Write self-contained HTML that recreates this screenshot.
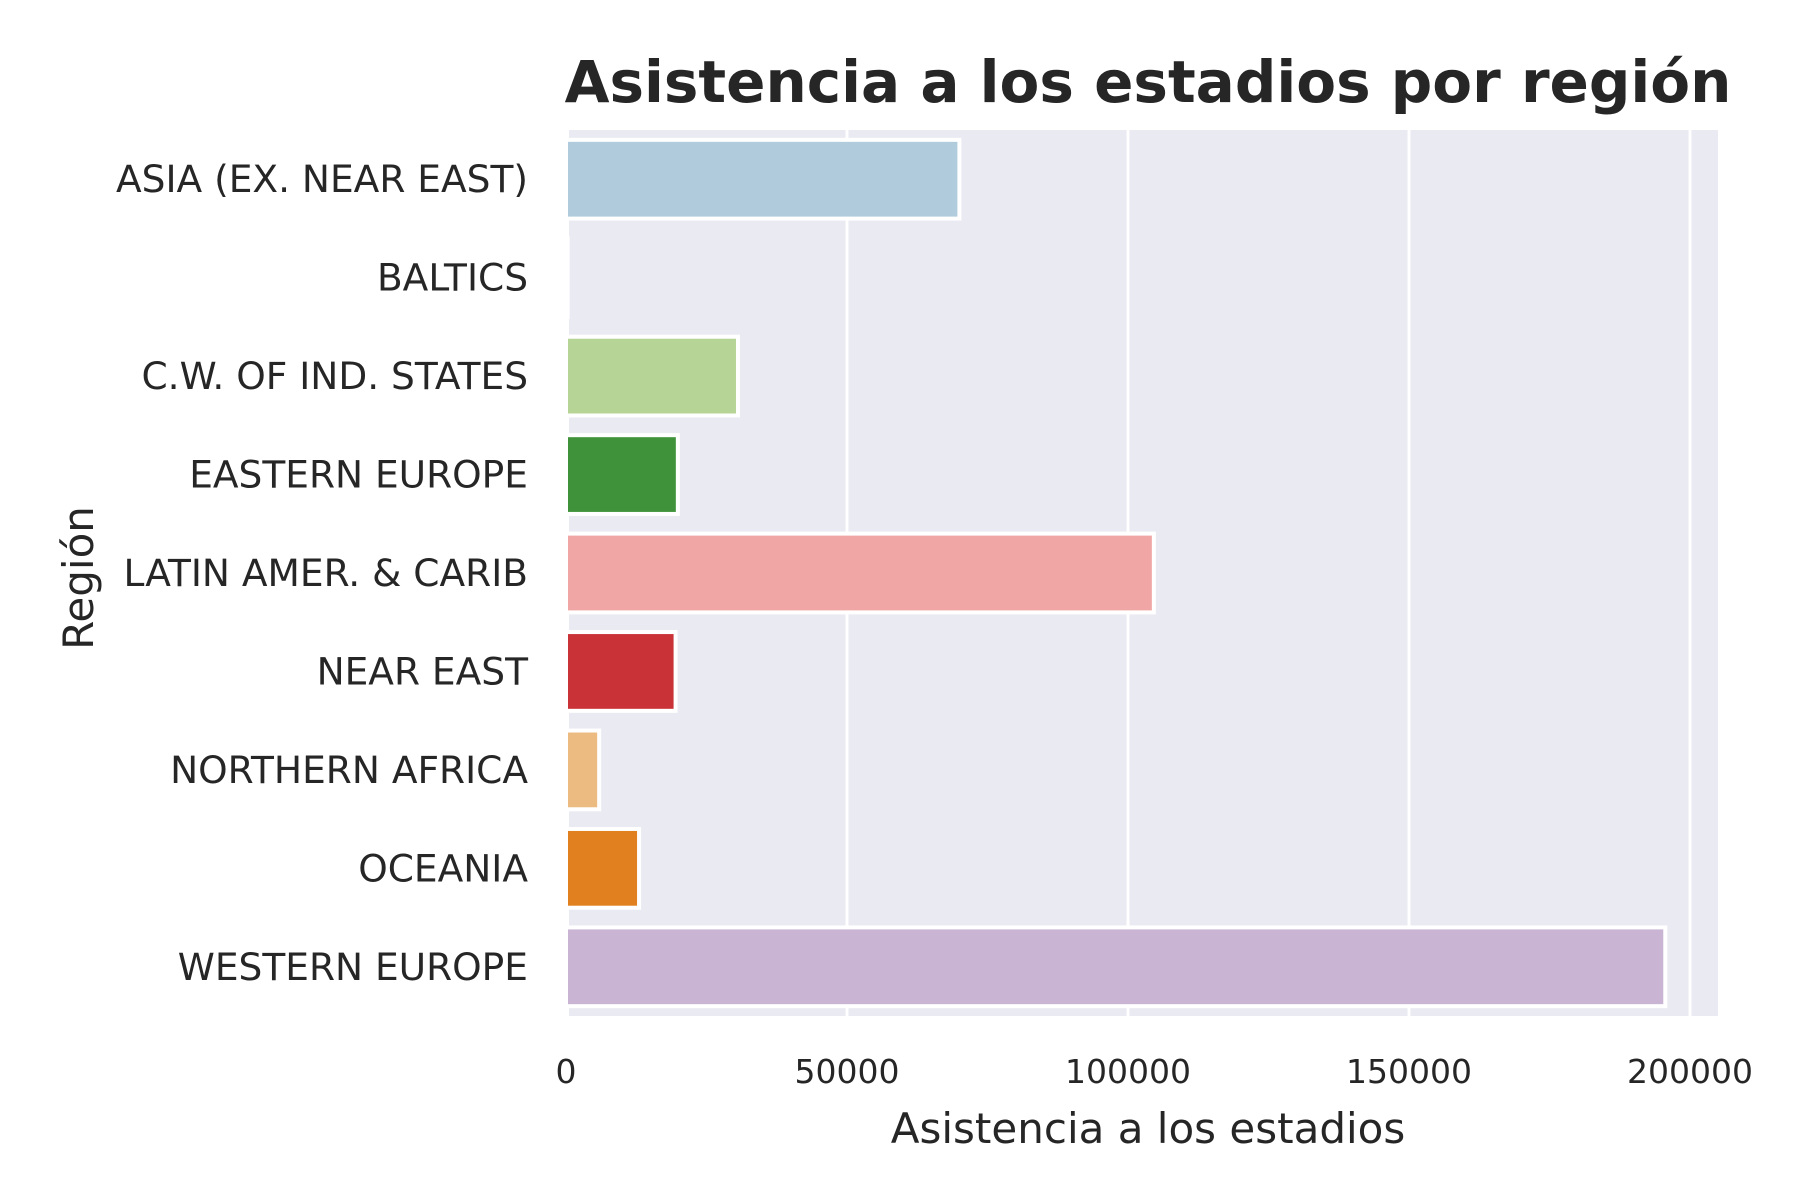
<!DOCTYPE html>
<html><head><meta charset="utf-8"><style>
html,body{margin:0;padding:0;background:#fff;}
svg{display:block;font-family:"DejaVu Sans","Liberation Sans",sans-serif;}
</style></head><body>
<svg id="chart" width="1800" height="1200" viewBox="0 0 1800 1200" xmlns="http://www.w3.org/2000/svg">
<rect x="0" y="0" width="1800" height="1200" fill="#ffffff"/>
<text x="1148" y="102" text-anchor="middle" font-size="58" font-weight="bold" fill="#262626">Asistencia a los estadios por región</text>
<rect x="569" y="130" width="1149" height="886" fill="#eaeaf2"/>
<g id="grid"></g>
<g id="bars"></g>
<g id="ylabels"></g>
<g id="xlabels"></g>
<text x="1148" y="1143" text-anchor="middle" font-size="42" fill="#262626">Asistencia a los estadios</text>
<text transform="translate(93,578) rotate(-90)" text-anchor="middle" font-size="42" fill="#262626">Región</text>
</svg>
<script>
const categories = ["ASIA (EX. NEAR EAST)","BALTICS","C.W. OF IND. STATES","EASTERN EUROPE","LATIN AMER. & CARIB","NEAR EAST","NORTHERN AFRICA","OCEANIA","WESTERN EUROPE"];
const values = [70000, 300, 30600, 19900, 104600, 19500, 5900, 13000, 195600];
const barColors = ["#afcbdc","#2b6f9f","#b5d495","#40923a","#f0a6a5","#c93236","#ecbb81","#e0801f","#c9b5d3"];
const xTicks = [0, 50000, 100000, 150000, 200000];
const xTickLabels = ["0","50000","100000","150000","200000"];

const NS = "http://www.w3.org/2000/svg";
const plotLeft = 569, plotTop = 130, plotBottom = 1016;
function xScale(v){ return 566 + v * (281/50000); }
const band = (plotBottom - plotTop) / categories.length;
function yCenter(i){ return plotTop + (i + 0.5) * band; }

const grid = document.getElementById('grid');
xTicks.forEach((t, i) => {
  const l = document.createElementNS(NS, 'line');
  l.setAttribute('x1', xScale(t)); l.setAttribute('x2', xScale(t));
  l.setAttribute('y1', plotTop); l.setAttribute('y2', plotBottom);
  l.setAttribute('stroke', '#ffffff'); l.setAttribute('stroke-width', '3');
  
  
  grid.appendChild(l);
  const tx = document.createElementNS(NS, 'text');
  tx.setAttribute('x', xScale(t)); tx.setAttribute('y', 1083);
  tx.setAttribute('text-anchor', 'middle'); tx.setAttribute('font-size', '33');
  tx.setAttribute('fill', '#262626');
  tx.textContent = xTickLabels[i];
  
  
  document.getElementById('xlabels').appendChild(tx);
});

const bars = document.getElementById('bars');
const ylab = document.getElementById('ylabels');
categories.forEach((c, i) => {
  const h = band * 0.8;
  const r = document.createElementNS(NS, 'rect');
  r.setAttribute('x', xScale(0));
  r.setAttribute('y', yCenter(i) - h/2);
  r.setAttribute('width', Math.max(0, xScale(values[i]) - xScale(0)));
  r.setAttribute('height', h);
  r.setAttribute('fill', barColors[i]);
  r.setAttribute('stroke', '#ffffff'); r.setAttribute('stroke-width', '4');
  
  
  bars.appendChild(r);
  const t = document.createElementNS(NS, 'text');
  t.setAttribute('x', 528); t.setAttribute('y', yCenter(i) + 13);
  t.setAttribute('text-anchor', 'end'); t.setAttribute('font-size', '37.5');
  t.setAttribute('fill', '#262626');
  t.textContent = c;
  
  
  ylab.appendChild(t);
});
</script>
</body></html>
